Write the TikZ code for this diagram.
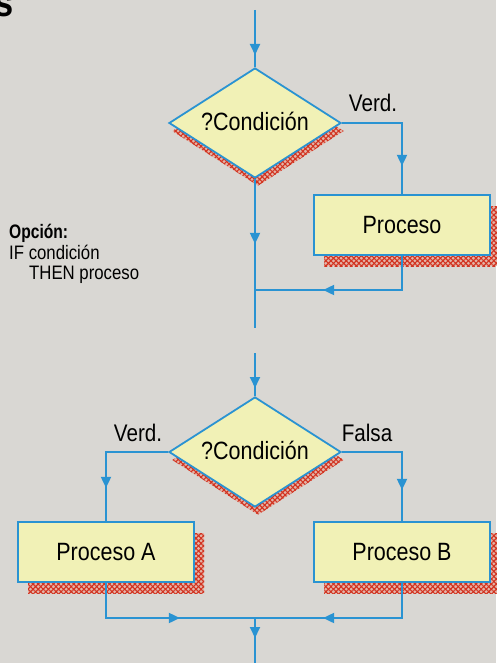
\documentclass[tikz,border=0pt]{standalone}
\usepackage{fontspec}
\setmainfont{Liberation Sans}[FakeStretch=0.86]
\usetikzlibrary{shapes.geometric,arrows.meta,decorations.markings,patterns.meta}
\definecolor{bg}{HTML}{D9D7D3}
\definecolor{flowblue}{HTML}{2A93D2}
\definecolor{boxfill}{HTML}{F1F1B6}
\definecolor{shred}{HTML}{D2321F}
\definecolor{shpink}{HTML}{E4B4A8}
\tikzset{
  flow/.style={draw=flowblue, line width=1.8pt},
  arrowat/.style={postaction={decorate,decoration={markings,
      mark=at position #1 with {\arrow[flowblue]{Triangle[width=10pt,length=11pt]}}}}},
  cond/.style={diamond, aspect=1.56, minimum width=172pt, minimum height=110pt,
      inner sep=0pt, draw=flowblue, line width=1.8pt, fill=boxfill,
      font=\fontsize{25}{27}\selectfont},
  proc/.style={rectangle, draw=flowblue, line width=1.8pt, fill=boxfill,
      minimum width=176pt, minimum height=60pt, inner sep=0pt,
      font=\fontsize{25}{27}\selectfont},
  shadowfill/.style={draw=none, fill=shpink,
      postaction={pattern={Lines[angle=45,distance=3.6pt,line width=1.1pt]}, pattern color=shred},
      postaction={pattern={Lines[angle=-45,distance=3.6pt,line width=1.1pt]}, pattern color=shred}},
  lbl/.style={font=\fontsize{24}{26}\selectfont, inner sep=0pt},
}
\begin{document}
\begin{tikzpicture}[x=1pt,y=-1pt]
\useasboundingbox (0,0) rectangle (496,663);
\fill[bg] (0,0) rectangle (496,663);

% heading fragment
\node[anchor=base east, inner sep=0pt, font=\fontsize{40}{40}\selectfont\bfseries] (hs) at (14,17) {s};

% ---------- top structure ----------
\node[cond, shadowfill, draw=none] (d1s) at (258,131) {};
\node[proc, shadowfill, draw=none] (p1s) at (412,236) {};
\node[cond] (d1) at (255,123) {\raisebox{3pt}{?Condición}};
\node[proc] (p1) at (402,225) {Proceso};
\coordinate (t1) at (255,10);
\coordinate (j1) at (255,290);
\coordinate (e1) at (255,328);
\draw[flow, arrowat=45pt] (t1) -- (d1.north);
\draw[flow, arrowat=103pt] (d1.east) -| (p1.north);
\draw[flow, arrowat=65pt] (d1.south) -- (e1);
\draw[flow, arrowat=113pt] (p1.south) |- (j1);
\node[lbl] (v1) at (373,103) {Verd.};

\node[anchor=north west, align=left, inner sep=0pt, font=\fontsize{19.5}{20.5}\selectfont] (opt) at (9,224)
  {{\addfontfeature{FakeStretch=0.8}\bfseries Opción:}\\IF condición\\\hspace*{20pt}THEN proceso};

% ---------- bottom structure ----------
\node[cond, shadowfill, draw=none] (d2s) at (258,460) {};
\node[proc, shadowfill, draw=none] (pas) at (116,563) {};
\node[proc, shadowfill, draw=none] (pbs) at (412,563) {};
\node[cond] (d2) at (255,452) {\raisebox{3pt}{?Condición}};
\node[proc] (pa) at (106,552) {Proceso A};
\node[proc] (pb) at (402,552) {Proceso B};
\coordinate (t2) at (255,353);
\coordinate (j2) at (255,618);
\coordinate (e2) at (255,663);
\draw[flow, arrowat=35pt] (t2) -- (d2.north);
\draw[flow, arrowat=98pt] (d2.west) -| (pa.north);
\draw[flow, arrowat=98pt] (d2.east) -| (pb.north);
\draw[flow, arrowat=109pt] (pa.south) |- (j2);
\draw[flow, arrowat=114pt] (pb.south) |- (j2);
\draw[flow, arrowat=20pt] (j2) -- (e2);
\node[lbl] (v2) at (138,433) {Verd.};
\node[lbl] (f2) at (367,433) {Falsa};
\end{tikzpicture}
\end{document}
